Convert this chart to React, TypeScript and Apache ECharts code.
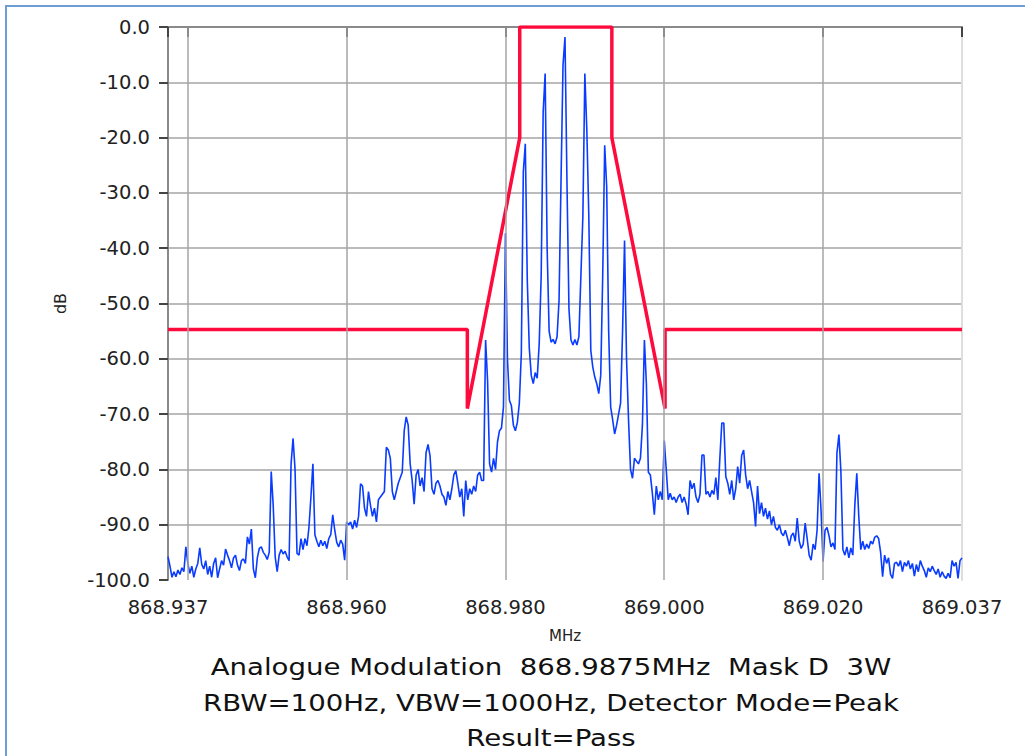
import React, { useEffect, useRef } from "react";
import * as echarts from "echarts";

// Frequency sweep: start and step (MHz)
const SWEEP_START = 868.9375;
const SWEEP_STEP = 0.00025;

const traceDb: number[] = [
  -95.8, -97.5, -99.5, -98.5, -99.4, -98.2, -99, -97.8, -98.5, -94,
  -97, -98.8, -97.5, -99.5, -98, -97, -94.2, -97.2, -98, -96.5,
  -99, -97.5, -99.5, -97, -96, -99.6, -98, -96.5, -97.3, -94.4,
  -95.5, -96.5, -97.8, -96, -95.5, -97.3, -98.3, -96.5, -96.2, -97,
  -92.2, -93.5, -90.8, -98, -99.6, -96, -94.3, -94, -95, -95.5,
  -96.3, -95, -80.4, -86.5, -95.8, -98.5, -95.5, -94.5, -95.3, -94.8,
  -95.8, -96.5, -79, -74.4, -80, -95.2, -95.5, -92.5, -94.5, -92.5,
  -93.8, -90.5, -85, -79, -91.8, -93, -94, -92.8, -93.8, -93,
  -94.3, -92.5, -91.8, -88.2, -91, -93.2, -94, -92.8, -93.5, -96.4,
  -89.5, -90, -89.5, -90.8, -89.2, -90.5, -88.5, -82.6, -83, -87,
  -88.5, -84, -86.5, -88.5, -87, -89.5, -85.5, -85, -84.5, -84,
  -76, -76.5, -78, -84, -85.5, -84, -82.5, -81.5, -80.5, -73,
  -70.5, -72, -79, -82, -86.3, -81, -80, -83, -81.5, -84,
  -77, -75.5, -77.5, -83.5, -84.5, -82.5, -82, -83, -84.5, -85,
  -86.5, -84, -85.5, -83.5, -81, -80.2, -82.5, -85, -83.5, -88.5,
  -82, -85.5, -83.5, -84.5, -83, -84, -81, -80.5, -82, -82,
  -56.6, -64, -79, -80.5, -78, -80, -75, -73, -72.5, -68.7,
  -37.3, -60, -67.5, -68.5, -72, -73, -71.5, -68, -59, -26.2,
  -21.1, -45.8, -58, -63, -64.5, -62.5, -63.5, -57.3, -45, -15.4,
  -8.4, -40, -55, -57, -56.5, -57.3, -56, -49.4, -27.7, -6.9,
  -1.8, -28.3, -51, -56.6, -57.5, -56.5, -57.5, -56, -45, -34.3,
  -8.4, -18.7, -34.3, -58.5, -61.5, -63.3, -64.5, -66.3, -63, -45,
  -21.4, -28.9, -55, -68.7, -71, -73.6, -72, -70, -68, -55,
  -38.6, -60, -71, -80, -81.6, -78, -78.5, -79, -78, -72,
  -56.6, -64.5, -80.5, -81, -84.3, -88.2, -83, -85.5, -84, -85.5,
  -74.8, -80, -85.5, -84.3, -85.5, -85, -86, -85, -84.5, -86,
  -85, -86.2, -88.2, -82, -83.5, -82.5, -85, -86, -84.5, -77.4,
  -77.4, -84.5, -84, -85, -83.8, -84.5, -81.5, -85.5, -78, -71.6,
  -71.6, -81.3, -82.5, -84.5, -82, -85.5, -83.5, -79.5, -82.5, -77.5,
  -76.5, -81, -83.5, -82, -84, -86, -90.3, -83, -88, -86,
  -88.5, -87, -89, -87.5, -90, -88.5, -90.5, -91, -90, -91.5,
  -92, -91, -92.3, -93.8, -92, -91.5, -93, -88.8, -93, -94.3,
  -93.5, -89.7, -92.5, -95.5, -96.4, -93.5, -94.5, -91, -80.7, -87.5,
  -96.7, -91, -90.5, -92, -94, -93.3, -94.5, -77, -73.7, -80.5,
  -94.5, -95.5, -94, -96, -94.2, -95.5, -86.5, -80.7, -88.5, -94.5,
  -93, -94.5, -93.5, -94.3, -93, -93.5, -92.3, -92, -92.5, -95,
  -99.4, -95.5, -97, -96, -99, -99.7, -97, -96.8, -97.5, -96.5,
  -98.5, -96.8, -97.5, -96.5, -98, -97, -99.3, -97.2, -98.5, -96.5,
  -97.5, -98.3, -99.5, -97.8, -98.5, -97.5, -98.3, -99, -98, -99.5,
  -98.5, -99.3, -99.7, -98.8, -99.6, -96.5, -97.5, -96.8, -99.7, -96.5,
  -96,
];

// Spectrum mask (red)
const maskFreq: number[] = [
  868.9375, 868.9752, 868.9752, 868.9818, 868.9818,
  868.9934, 868.9934, 869.0001, 869.0001, 869.0375,
];
const maskDb: number[] = [-54.7, -54.7, -69, -20, 0, 0, -20, -69, -54.7, -54.7];

// Axes
const X_MIN = 868.9375;
const X_MAX = 869.0375;
const xTickValues: number[] = [868.9375, 868.94, 868.96, 868.98, 869.0, 869.02, 869.0375];
const xLabelValues: number[] = [868.9375, 868.96, 868.98, 869.0, 869.02, 869.0375];
const xLabelTexts: string[] = ["868.937", "868.960", "868.980", "869.000", "869.020", "869.037"];
const xGridValues: number[] = [868.94, 868.96, 868.98, 869.0, 869.02];

const captionLines: string[] = [
  "Analogue Modulation  868.9875MHz  Mask D  3W",
  "RBW=100Hz, VBW=1000Hz, Detector Mode=Peak",
  "Result=Pass",
];

const FONT = "DejaVu Sans";

export default function App() {
  const ref = useRef<HTMLDivElement>(null);

  useEffect(() => {
    if (!ref.current) return;
    const chart = echarts.init(ref.current, undefined, { renderer: "svg" });

    const traceData = traceDb.map((v, i) => [SWEEP_START + i * SWEEP_STEP, v]);
    const maskData = maskFreq.map((f, i) => [f, maskDb[i]]);

    const labelFor = (v: number) => {
      for (let k = 0; k < xLabelValues.length; k++) {
        if (Math.abs(v - xLabelValues[k]) < 1e-6) return xLabelTexts[k];
      }
      return "";
    };

    const option: any = {
      animation: false,
      backgroundColor: "#ffffff",
      grid: { left: 168, right: 63, top: 27, bottom: 176, containLabel: false },
      xAxis: [
        {
          type: "value",
          min: X_MIN,
          max: X_MAX,
          position: "bottom",
          name: "MHz",
          nameLocation: "middle",
          nameGap: 48,
          nameTextStyle: { fontFamily: FONT, fontSize: 15, color: "#222" },
          axisLine: { show: true, lineStyle: { color: "#d6d6d6", width: 2 } },
          axisTick: {
            show: true,
            inside: false,
            length: 10,
            customValues: xTickValues,
            lineStyle: { color: "#444", width: 2 },
          },
          axisLabel: {
            show: true,
            customValues: xLabelValues,
            formatter: labelFor,
            margin: 17,
            fontFamily: FONT,
            fontSize: 19.5,
            color: "#222",
            hideOverlap: false,
            showMinLabel: true,
            showMaxLabel: true,
          },
          splitLine: { show: false },
        },
        {
          type: "value",
          min: X_MIN,
          max: X_MAX,
          position: "top",
          axisLine: { show: true, lineStyle: { color: "#8a8a8a", width: 2 } },
          axisTick: { show: false },
          axisLabel: { show: false },
          splitLine: { show: false },
        },
      ],
      yAxis: [
        {
          type: "value",
          min: -100,
          max: 0,
          interval: 10,
          position: "left",
          name: "dB",
          nameLocation: "middle",
          nameRotate: 90,
          nameGap: 100,
          nameTextStyle: { fontFamily: FONT, fontSize: 16, color: "#222" },
          axisLine: { show: true, lineStyle: { color: "#8a8a8a", width: 2 } },
          axisTick: { show: true, inside: false, length: 9, lineStyle: { color: "#444", width: 2 } },
          axisLabel: {
            formatter: (v: number) => v.toFixed(1),
            margin: 18,
            fontFamily: FONT,
            fontSize: 19.5,
            color: "#222",
          },
          splitLine: {
            show: true,
            showMinLine: false,
            showMaxLine: false,
            lineStyle: { color: "#a4a4a4", width: 1.5 },
          },
        },
        {
          type: "value",
          min: -100,
          max: 0,
          position: "right",
          axisLine: { show: true, lineStyle: { color: "#dedede", width: 2 } },
          axisTick: { show: false },
          axisLabel: { show: false },
          splitLine: { show: false },
        },
      ],
      series: [
        {
          name: "grid",
          type: "line",
          data: [],
          z: 1,
          silent: true,
          markLine: {
            silent: true,
            animation: false,
            symbol: ["none", "none"],
            label: { show: false },
            lineStyle: { color: "#a4a4a4", width: 1.5, type: "solid" },
            data: xGridValues.map((v) => ({ xAxis: v })),
          },
        },
        {
          name: "Spectrum",
          type: "line",
          data: traceData,
          showSymbol: false,
          symbol: "none",
          z: 3,
          lineStyle: { color: "#0a3cff", width: 1.6 },
          silent: true,
        },
        {
          name: "Mask",
          type: "line",
          data: maskData,
          showSymbol: false,
          symbol: "none",
          z: 4,
          lineStyle: { color: "#ff0a3c", width: 3.5 },
          silent: true,
        },
      ],
      graphic: [
        {
          type: "rect",
          shape: { x: 6, y: 6, width: 1060, height: 800 },
          style: { fill: "none", stroke: "#6f9dd8", lineWidth: 2 },
          silent: true,
        },
        ...captionLines.map((t, k) => ({
          type: "text",
          x: 551,
          y: 667 + k * 35.5,
          scaleX: 1.2,
          style: {
            text: t,
            fontFamily: FONT,
            fontSize: 23,
            fill: "#111",
            align: "center",
            verticalAlign: "middle",
            textAlign: "center",
            textVerticalAlign: "middle",
          },
        })),
      ],
    };

    chart.setOption(option);
    return () => chart.dispose();
  }, []);

  return (
    <div
      ref={ref}
      style={{ position: "fixed", left: 0, top: 0, width: 1025, height: 756, background: "#fff" }}
    />
  );
}
